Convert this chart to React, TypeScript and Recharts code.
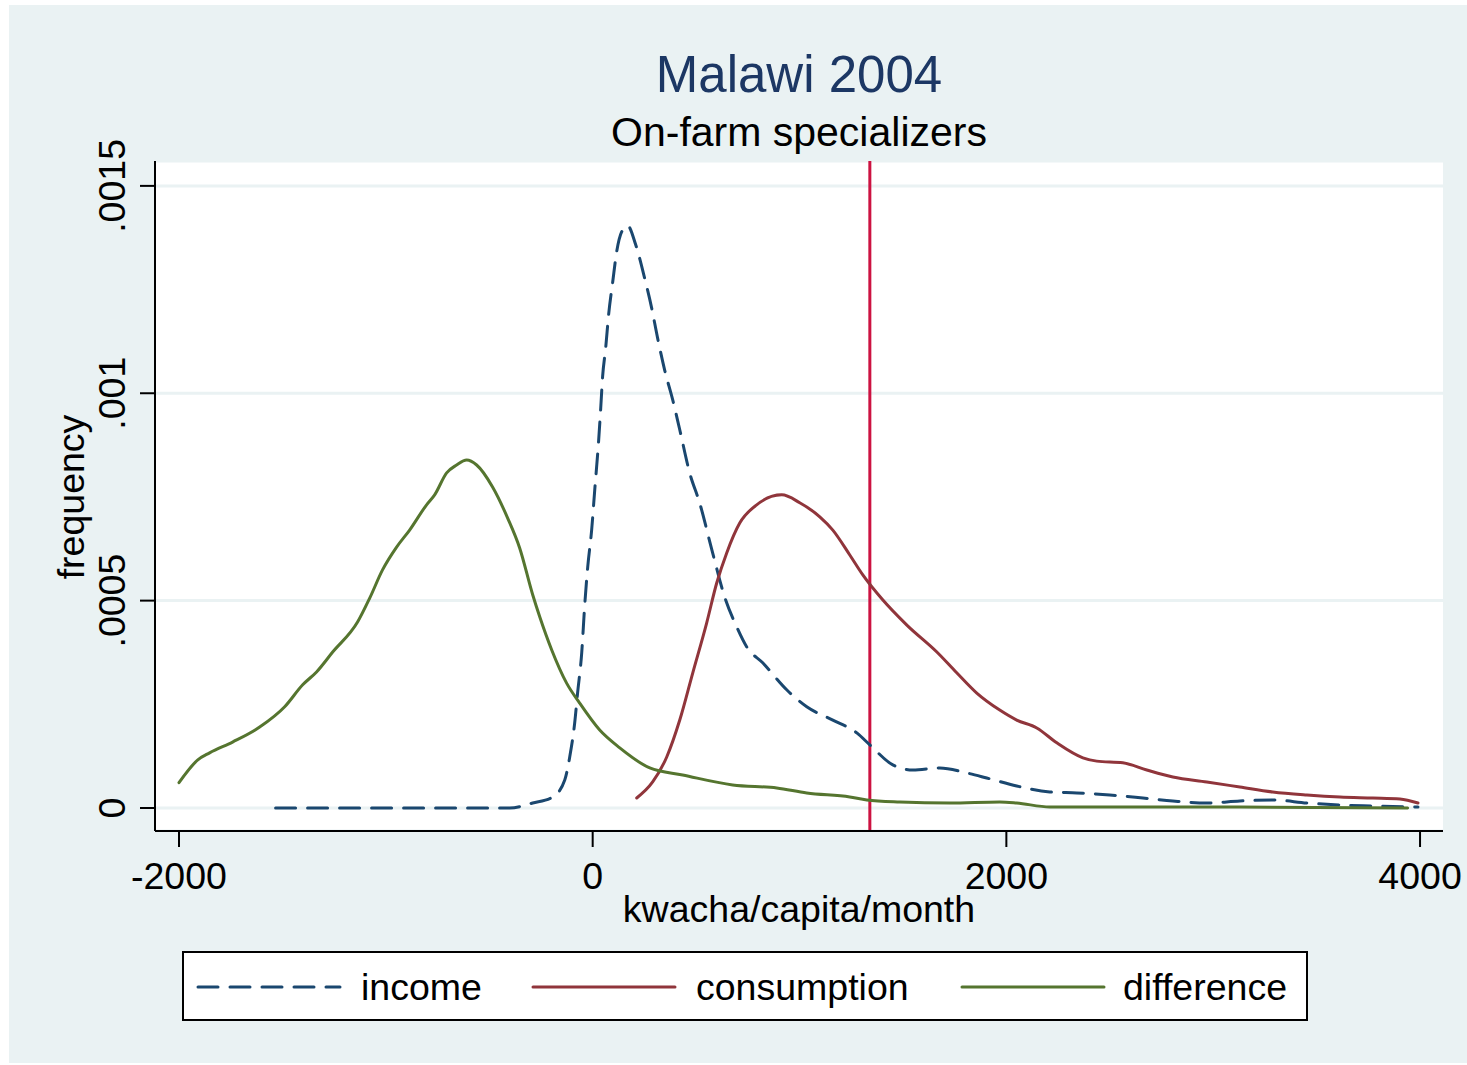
import React from 'react';
import { LineChart, Line, XAxis, YAxis, CartesianGrid, ReferenceLine } from 'recharts';

const title = 'Malawi 2004';
const subtitle = 'On-farm specializers';
const xAxisTitle = 'kwacha/capita/month';
const yAxisTitle = 'frequency';
const xTicks = [-2000, 0, 2000, 4000];
const yTicks = [0, 0.0005, 0.001, 0.0015];
const yTickLabels = ['0', '.0005', '.001', '.0015'];
const povertyLine = 1340;
const seriesNames = ['income', 'consumption', 'difference'];

const incomeX = [-1533, -1200, -800, -401, -290, -193, -135, -111, -87, -73, -53, -39, -24, -5, 10, 29, 39, 48, 63, 77, 97, 116, 140, 169, 208, 251, 285, 314, 348, 387, 421, 469, 517, 580, 638, 696, 745, 822, 938, 1035, 1161, 1277, 1340, 1451, 1548, 1678, 1809, 1905, 2050, 2210, 2341, 2500, 2660, 2805, 2969, 3129, 3288, 3453, 3613, 3772, 3990];
const incomeY = [0, 0, 0, 0, 0.000012, 0.0000265, 0.0000675, 0.000123, 0.000205, 0.000277, 0.000374, 0.000485, 0.000581, 0.00067, 0.000767, 0.000887, 0.000965, 0.00104, 0.00111, 0.001189, 0.001269, 0.001341, 0.001389, 0.001404, 0.001358, 0.001278, 0.001206, 0.001133, 0.001056, 0.000984, 0.000912, 0.000808, 0.000736, 0.000615, 0.000509, 0.000437, 0.000388, 0.00035, 0.000285, 0.000244, 0.000212, 0.000181, 0.000152, 0.000104, 0.0000916, 0.0000965, 0.0000844, 0.0000723, 0.000053, 0.0000386, 0.0000362, 0.0000314, 0.0000241, 0.0000169, 0.000012, 0.0000169, 0.0000193, 0.000012, 0.0000072, 0.0000048, 0.0000024];

const consumptionX = [213, 290, 358, 421, 484, 551, 600, 648, 711, 793, 914, 1001, 1098, 1161, 1243, 1306, 1402, 1519, 1664, 1760, 1857, 1968, 2050, 2147, 2244, 2370, 2437, 2563, 2679, 2805, 2969, 3129, 3288, 3453, 3613, 3772, 3903, 3990];
const consumptionY = [0.0000241, 0.0000627, 0.000123, 0.000212, 0.000326, 0.000446, 0.000543, 0.000615, 0.000687, 0.000731, 0.000755, 0.000736, 0.000702, 0.00067, 0.00061, 0.000562, 0.000502, 0.000441, 0.000376, 0.000326, 0.000277, 0.000236, 0.000212, 0.000193, 0.000157, 0.000121, 0.000113, 0.000109, 0.0000916, 0.0000748, 0.0000627, 0.0000506, 0.0000386, 0.0000314, 0.0000265, 0.0000241, 0.0000217, 0.000012];

const differenceX = [-2000, -1909, -1852, -1741, -1610, -1489, -1402, -1335, -1257, -1136, -1078, -1016, -948, -885, -803, -764, -706, -658, -609, -561, -484, -411, -353, -290, -256, -198, -126, -63, 34, 131, 276, 435, 677, 890, 1035, 1243, 1325, 1485, 1726, 1968, 2050, 2210, 2694, 3129, 3940];
const differenceY = [0.000061, 0.000116, 0.000133, 0.000159, 0.000195, 0.000244, 0.000297, 0.000328, 0.000376, 0.000449, 0.000506, 0.000574, 0.000629, 0.00067, 0.000731, 0.000755, 0.000808, 0.000827, 0.000839, 0.000827, 0.000774, 0.000699, 0.000627, 0.000514, 0.000461, 0.000381, 0.000301, 0.000253, 0.000188, 0.000145, 0.0000965, 0.0000796, 0.0000555, 0.0000482, 0.0000362, 0.0000265, 0.0000193, 0.0000145, 0.000012, 0.0000145, 0.000012, 0.0000024, 0.0000024, 0.0000024, 0];

const toPoints = (xs: number[], ys: number[]) => xs.map((x, i) => ({ x, y: ys[i] }));

const series = [
  { name: seriesNames[0], data: toPoints(incomeX, incomeY), color: '#1A476F', dash: '20 12' },
  { name: seriesNames[1], data: toPoints(consumptionX, consumptionY), color: '#90353B', dash: undefined },
  { name: seriesNames[2], data: toPoints(differenceX, differenceY), color: '#55752F', dash: undefined },
];

const FONT = "'Liberation Sans', Arial, Helvetica, sans-serif";

const YTick = (props: any) => {
  const { x, y, payload } = props;
  const idx = yTicks.indexOf(payload.value);
  const label = idx >= 0 ? yTickLabels[idx] : String(payload.value);
  return (
    <text x={x} y={y} transform={`rotate(-90 ${x} ${y})`} textAnchor="middle" fontSize={37.5} fill="#000" fontFamily={FONT}>
      {label}
    </text>
  );
};

const XTick = (props: any) => {
  const { x, y, payload } = props;
  return (
    <text x={x} y={y} dy="0.71em" textAnchor="middle" fontSize={37.5} fill="#000" fontFamily={FONT}>
      {String(payload.value)}
    </text>
  );
};

const legendItems = [
  { lineX: 198, textX: 361 },
  { lineX: 533, textX: 696 },
  { lineX: 962, textX: 1123 },
];

export default function App() {
  return (
    <div style={{ position: 'relative', width: 1467, height: 1065, background: '#fff', fontFamily: FONT }}>
      <style>{`body{margin:0}`}</style>
      <div style={{ position: 'absolute', left: 9, top: 5, right: 0, bottom: 2, background: '#EAF2F3' }} />
      <div style={{ position: 'absolute', left: 0, top: 0 }}>
        <LineChart width={1467} height={1065} margin={{ top: 161, right: 24, bottom: 174, left: 95 }}>
          <CartesianGrid vertical={false} horizontal={true} stroke="#EAF2F3" strokeWidth={3} fill="#ffffff" fillOpacity={1} />
          <XAxis
            type="number"
            dataKey="x"
            domain={[-2116, 4111]}
            ticks={xTicks}
            allowDataOverflow
            height={60}
            tickSize={16}
            tickMargin={15}
            axisLine={{ stroke: '#000', strokeWidth: 2 }}
            tickLine={{ stroke: '#000', strokeWidth: 2 }}
            tick={<XTick />}
            interval={0}
          />
          <YAxis
            type="number"
            dataKey="y"
            domain={[-0.0000555, 0.00156]}
            ticks={yTicks}
            allowDataOverflow
            width={60}
            tickSize={15}
            tickMargin={15}
            axisLine={{ stroke: '#000', strokeWidth: 2 }}
            tickLine={{ stroke: '#000', strokeWidth: 2 }}
            tick={<YTick />}
            interval={0}
          />
          <ReferenceLine x={povertyLine} stroke="#CC1241" strokeWidth={3} ifOverflow="extendDomain" />
          {series.map((s) => (
            <Line
              key={s.name}
              data={s.data}
              dataKey="y"
              name={s.name}
              type="monotone"
              stroke={s.color}
              strokeWidth={3}
              strokeDasharray={s.dash}
              strokeLinecap="round"
              dot={false}
              activeDot={false}
              isAnimationActive={false}
            />
          ))}
          <text x={799} y={92} textAnchor="middle" fontSize={51} fill="#1C3764" fontFamily={FONT}>{title}</text>
          <text x={799} y={146} textAnchor="middle" fontSize={41} fill="#000" fontFamily={FONT}>{subtitle}</text>
          <text x={799} y={922} textAnchor="middle" fontSize={37.5} fill="#000" fontFamily={FONT}>{xAxisTitle}</text>
          <text x={84} y={497} transform="rotate(-90 84 497)" textAnchor="middle" fontSize={37.5} fill="#000" fontFamily={FONT}>{yAxisTitle}</text>
        </LineChart>
      </div>
      <svg style={{ position: 'absolute', left: 0, top: 0 }} width={1467} height={1065}>
        <rect x={183} y={952} width={1124} height={68} fill="#fff" stroke="#000" strokeWidth={2} />
        {series.map((s, i) => (
          <g key={s.name}>
            <line x1={legendItems[i].lineX} y1={987} x2={legendItems[i].lineX + 142} y2={987} stroke={s.color} strokeWidth={3} strokeDasharray={s.dash} strokeLinecap="round" />
            <text x={legendItems[i].textX} y={1000} fontSize={37.5} fill="#000" fontFamily={FONT}>{s.name}</text>
          </g>
        ))}
      </svg>
    </div>
  );
}
